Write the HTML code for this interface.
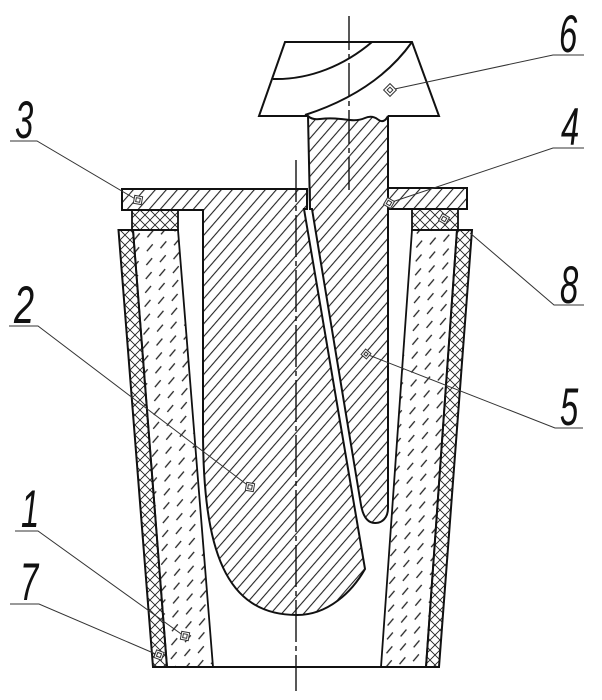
<!DOCTYPE html>
<html>
<head>
<meta charset="utf-8">
<style>
html,body{margin:0;padding:0;background:#fff;width:602px;height:700px;overflow:hidden}
svg{display:block}
text{font-family:"Liberation Sans",sans-serif;font-style:italic;font-size:53px;fill:#111}
</style>
</head>
<body>
<svg width="602" height="700" viewBox="0 0 602 700" xmlns="http://www.w3.org/2000/svg">
<defs>
<pattern id="h" width="8.3" height="8.3" patternUnits="userSpaceOnUse" patternTransform="rotate(41)">
<line x1="1" y1="0" x2="1" y2="8.3" stroke="#222" stroke-width="1.1"/>
</pattern>
<pattern id="x" width="10" height="10" patternUnits="userSpaceOnUse">
<path d="M-1,1 L1,-1 M0,10 L10,0 M9,11 L11,9 M-1,9 L1,11 M0,0 L10,10 M9,-1 L11,1" stroke="#222" stroke-width=".9" fill="none"/>
</pattern>
<pattern id="d" width="17" height="22" patternUnits="userSpaceOnUse" patternTransform="rotate(40)">
<line x1="2" y1="1" x2="2" y2="10" stroke="#222" stroke-width="1.3"/>
<line x1="10.5" y1="12" x2="10.5" y2="21" stroke="#222" stroke-width="1.3"/>
</pattern>
</defs>
<rect width="602" height="700" fill="#fff"/>

<!-- shell (7) -->
<path d="M118.5,230 L133,230 L167,667 L153,667 Z" fill="url(#x)" stroke="#111" stroke-width="2"/>
<path d="M472,230 L457,230 L426,667 L439,667 Z" fill="url(#x)" stroke="#111" stroke-width="2"/>
<!-- lining (1) -->
<path d="M133,230 L178,230 L213,667 L167,667 Z" fill="url(#d)" stroke="#111" stroke-width="1.8"/>
<path d="M412,230 L457,230 L426,667 L381,667 Z" fill="url(#d)" stroke="#111" stroke-width="1.8"/>
<!-- rings (8) -->
<rect x="132" y="210" width="46" height="20" fill="url(#x)" stroke="#111" stroke-width="1.8"/>
<rect x="412" y="209" width="46" height="21" fill="url(#x)" stroke="#111" stroke-width="1.8"/>
<!-- right plate -->
<rect x="388" y="188" width="79" height="21" fill="url(#h)" stroke="#111" stroke-width="2"/>
<!-- body 2 with left plate -->
<path d="M122,189 L307,189 L307,209 L304,209 L365,569 C352,592 328,615 297,615 C225,615 203,550 203,430 L203,210 L122,210 Z" fill="url(#h)" stroke="#111" stroke-width="2"/>
<!-- cone 6 -->
<path d="M285,42 L412,42 L439,116 L259,116 Z" fill="#fff" stroke="none"/>
<path d="M307,116 L259,116 L285,42 L412,42 L439,116 L388,116" fill="none" stroke="#111" stroke-width="2"/>
<path d="M372,42 C345,65 310,80 273,79" fill="none" stroke="#111" stroke-width="2"/>
<path d="M412,42 C385,80 345,102 305,115" fill="none" stroke="#111" stroke-width="2"/>
<!-- body 5 -->
<path d="M308,116 Q312,120 320,119 T335,118.5 T350,120 T365,118 T378,119.5 T388,116 L388,508 C388,518 382,523 375,523 C367,523 363,516 361,505 L312,209 L310,209 Z" fill="url(#h)" stroke="#111" stroke-width="2"/>
<line x1="310" y1="189" x2="310" y2="209" stroke="#111" stroke-width="1.6"/>
<!-- bottom -->
<line x1="153" y1="667" x2="439" y2="667" stroke="#111" stroke-width="2"/>

<!-- centre lines -->
<line x1="349" y1="16" x2="349" y2="190" stroke="#111" stroke-width="1.4" stroke-dasharray="34 4 5 4"/>
<line x1="296" y1="160" x2="296" y2="691" stroke="#111" stroke-width="1.4" stroke-dasharray="42 4 5 4"/>

<!-- leaders -->
<g fill="none" stroke="#333" stroke-width="1">
<path d="M10,141 H37 L137,200"/>
<path d="M9,326 H38 L250,487"/>
<path d="M15,531 H38 L184,636"/>
<path d="M10,604 H39 L158,655"/>
<path d="M584,55 H553 L390,90"/>
<path d="M584,148 H553 L389,203"/>
<path d="M584,305 H554 L470,233"/>
<path d="M583,428 H555 L366,354"/>
</g>

<!-- markers -->
<g fill="#fff" stroke="#333" stroke-width="1">
<g transform="translate(390,90) rotate(45)"><rect x="-4.5" y="-4.5" width="9" height="9"/><rect x="-2" y="-2" width="4" height="4"/></g>
<g transform="translate(138,200) rotate(10)"><rect x="-4" y="-4" width="8" height="8"/><rect x="-2" y="-2" width="4" height="4"/></g>
<g transform="translate(389,203) rotate(30)"><rect x="-4" y="-4" width="8" height="8"/><rect x="-2" y="-2" width="4" height="4"/></g>
<g transform="translate(444,219) rotate(30)"><rect x="-4" y="-4" width="8" height="8"/><rect x="-2" y="-2" width="4" height="4"/></g>
<g transform="translate(366,354) rotate(40)"><rect x="-3.5" y="-3.5" width="7" height="7"/><rect x="-1.5" y="-1.5" width="3" height="3"/></g>
<g transform="translate(250,487) rotate(10)"><rect x="-4" y="-4" width="8" height="8"/><rect x="-2" y="-2" width="4" height="4"/></g>
<g transform="translate(185,636) rotate(10)"><rect x="-4" y="-4" width="8" height="8"/><rect x="-2" y="-2" width="4" height="4"/></g>
<g transform="translate(159,655) rotate(20)"><rect x="-4" y="-4" width="8" height="8"/><rect x="-2" y="-2" width="4" height="4"/></g>
</g>

<!-- labels -->
<text transform="translate(15,138) scale(.62,1)">3</text>
<text transform="translate(14,323) scale(.68,1)">2</text>
<text transform="translate(21,527) scale(.62,1)">1</text>
<text transform="translate(20,600) scale(.62,1)">7</text>
<text transform="translate(559,52) scale(.62,1)">6</text>
<text transform="translate(561,145) scale(.62,1)">4</text>
<text transform="translate(560,303) scale(.62,1)">8</text>
<text transform="translate(560,425) scale(.62,1)">5</text>
</svg>
</body>
</html>
